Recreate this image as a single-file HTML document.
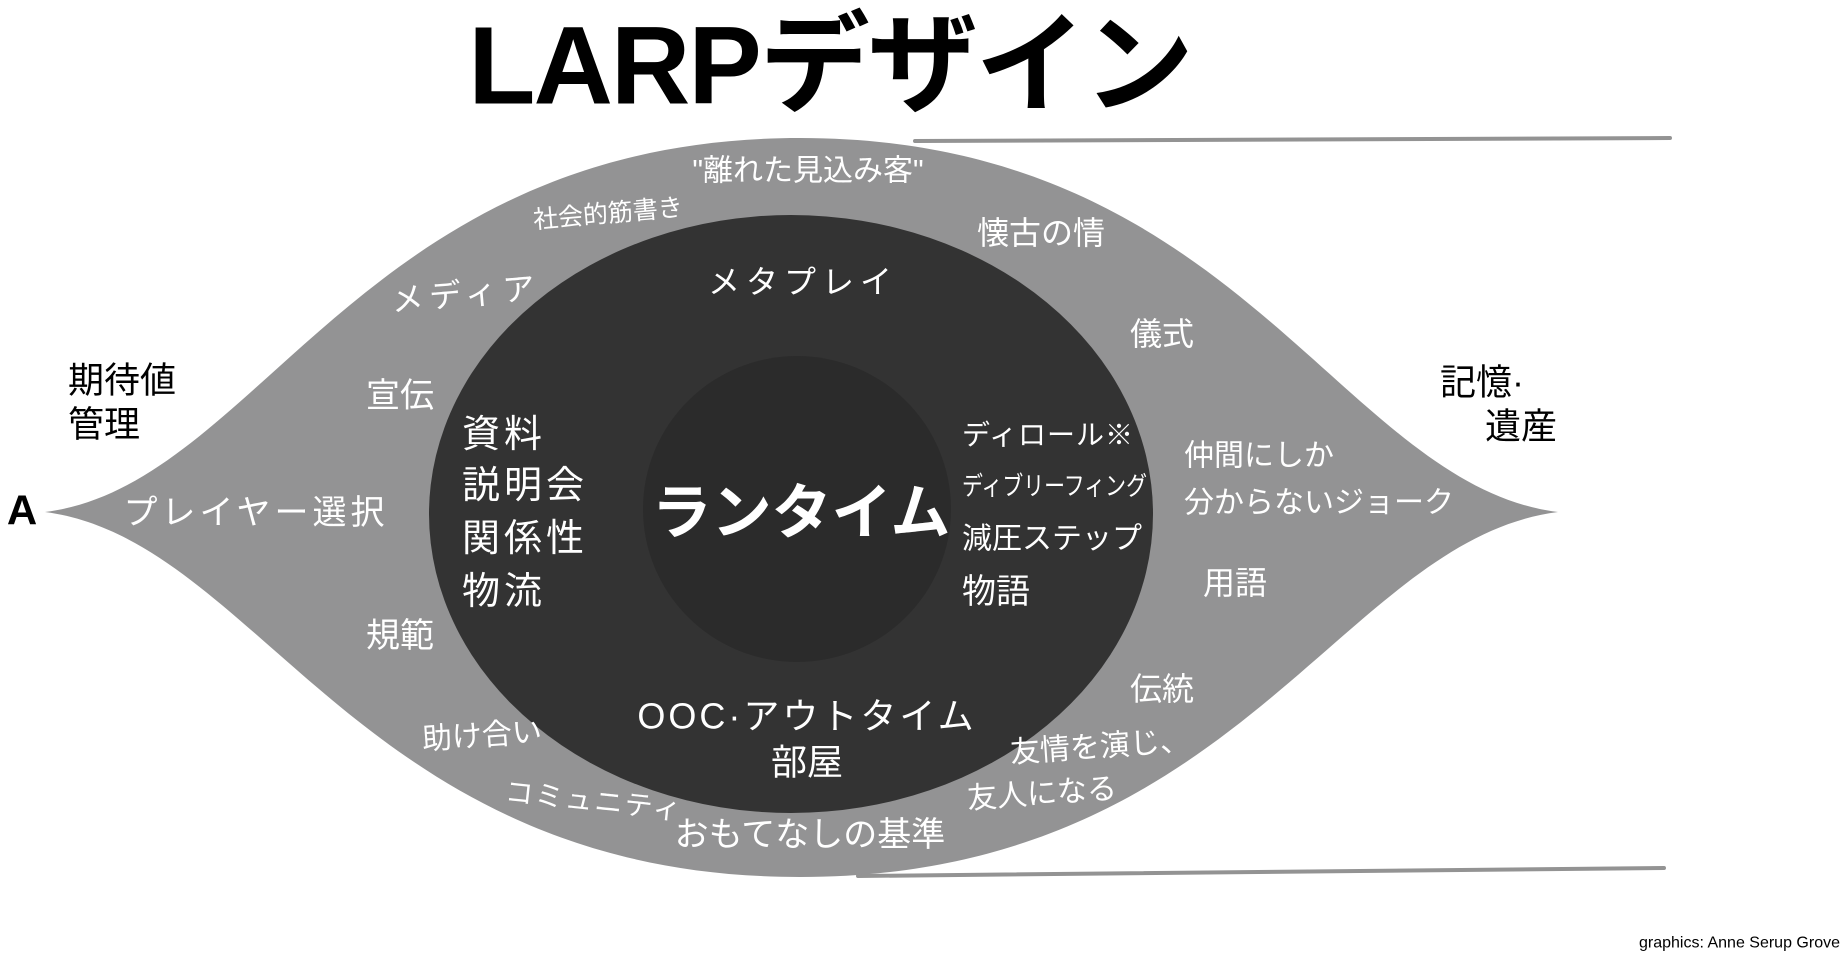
<!DOCTYPE html>
<html><head><meta charset="utf-8"><style>
html,body{margin:0;padding:0;background:#fff;}
svg{display:block;}
text{font-family:"Liberation Sans","Noto Sans CJK JP",sans-serif;}
.w{fill:#fff;text-anchor:middle;dominant-baseline:central;}
.s{fill:#fff;dominant-baseline:central;}
</style></head><body>
<svg width="1844" height="953" viewBox="0 0 1844 953" xmlns="http://www.w3.org/2000/svg">
<rect width="1844" height="953" fill="#fff"/>
<text x="830" y="66" font-size="110" font-weight="bold" text-anchor="middle" dominant-baseline="central" fill="#000" style="letter-spacing:-2px">LARPデザイン</text>
<line x1="915" y1="141" x2="1670" y2="138" stroke="#939393" stroke-width="4" stroke-linecap="round"/>
<line x1="858" y1="876" x2="1664" y2="868" stroke="#939393" stroke-width="4" stroke-linecap="round"/>
<path d="M45,512 C260,485 360,138 800,138 C1240,138 1340,485 1558,512 C1340,540 1240,877 800,877 C360,877 260,540 45,512 Z" fill="#939394"/>
<ellipse cx="791" cy="514" rx="362" ry="299" fill="#333333"/>
<ellipse cx="797" cy="509" rx="154" ry="153" fill="#2b2b2b"/>
<text class="w" x="808" y="171" font-size="30">"離れた見込み客"</text>
<text class="w" x="608" y="214" font-size="25" transform="rotate(-5 608 214)">社会的筋書き</text>
<text class="w" x="1041" y="233" font-size="32">懐古の情</text>
<text class="w" x="803" y="282" font-size="32" style="letter-spacing:6px">メタプレイ</text>
<text class="w" x="466" y="294" font-size="32" transform="rotate(-5 466 294)" style="letter-spacing:6px">メディア</text>
<text class="w" x="1162" y="334" font-size="32">儀式</text>
<text x="68" y="380" font-size="36" fill="#000" dominant-baseline="central">期待値</text>
<text x="68" y="424" font-size="36" fill="#000" dominant-baseline="central">管理</text>
<text class="w" x="400" y="396" font-size="34">宣伝</text>
<text x="1440" y="382" font-size="36" fill="#000" dominant-baseline="central">記憶·</text>
<text x="1485" y="426" font-size="36" fill="#000" dominant-baseline="central">遺産</text>
<text class="s" x="462" y="435" font-size="38" style="letter-spacing:4px">資料</text>
<text class="s" x="462" y="486" font-size="38" style="letter-spacing:4px">説明会</text>
<text class="s" x="462" y="539" font-size="38" style="letter-spacing:4px">関係性</text>
<text class="s" x="462" y="592" font-size="38" style="letter-spacing:4px">物流</text>
<text class="s" x="962" y="435" font-size="28" style="letter-spacing:1px">ディロール※</text>
<text class="s" x="962" y="486" font-size="26" textLength="185" lengthAdjust="spacingAndGlyphs">ディブリーフィング</text>
<text class="s" x="962" y="539" font-size="30">減圧ステップ</text>
<text class="s" x="962" y="592" font-size="34">物語</text>
<text class="w" x="801" y="513" font-size="60" font-weight="bold">ランタイム</text>
<text class="s" x="1184" y="456" font-size="30">仲間にしか</text>
<text class="s" x="1184" y="503" font-size="30">分からないジョーク</text>
<text x="22" y="510" font-size="42" font-weight="bold" fill="#000" text-anchor="middle" dominant-baseline="central">A</text>
<text class="w" x="256" y="513" font-size="34" style="letter-spacing:4px">プレイヤー選択</text>
<text class="w" x="1235" y="583" font-size="32">用語</text>
<text class="w" x="400" y="636" font-size="34">規範</text>
<text class="w" x="1162" y="689" font-size="32">伝統</text>
<text class="w" x="807" y="716" font-size="36" style="letter-spacing:3px">OOC·アウトタイム</text>
<text class="w" x="807" y="762" font-size="36">部屋</text>
<text class="w" x="482" y="736" font-size="30" transform="rotate(-4 482 736)">助け合い</text>
<text class="w" x="1100" y="747" font-size="30" transform="rotate(-4 1100 747)">友情を演じ、</text>
<text class="w" x="1042" y="794" font-size="30" transform="rotate(-4 1042 794)">友人になる</text>
<text class="w" x="594" y="801" font-size="28" transform="rotate(6 594 801)" style="letter-spacing:2px">コミュニティ</text>
<text class="w" x="810" y="835" font-size="34">おもてなしの基準</text>
<text x="1840" y="943" font-size="16" fill="#000" text-anchor="end" dominant-baseline="central">graphics: Anne Serup Grove</text>
</svg>
</body></html>
